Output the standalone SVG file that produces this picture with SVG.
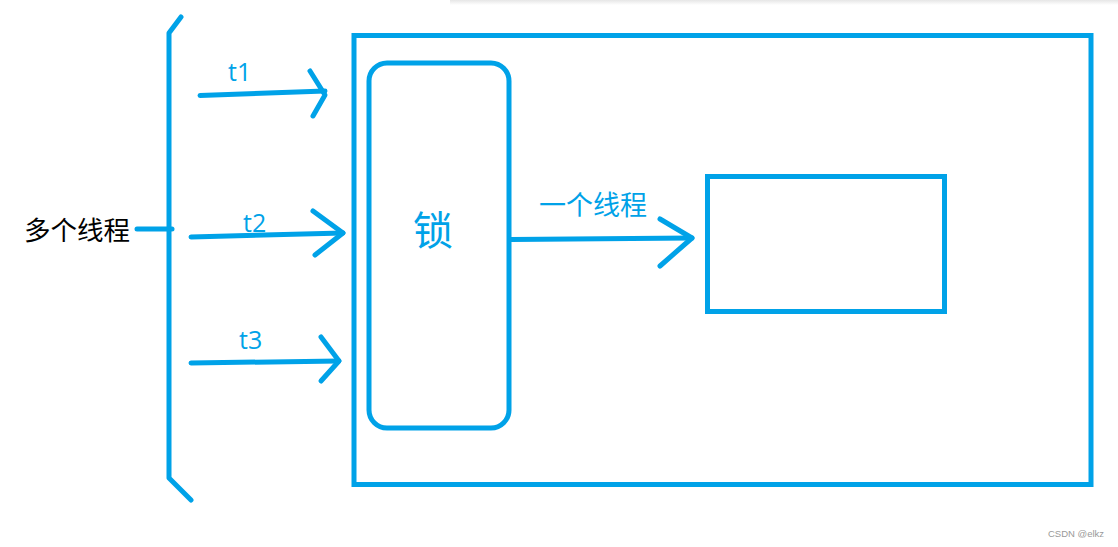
<svg xmlns="http://www.w3.org/2000/svg" width="1118" height="547" viewBox="0 0 1118 547">
<defs>
<style>
.s{fill:none;stroke:#00a2e8;stroke-width:5;stroke-linecap:round;stroke-linejoin:round}
.b{fill:none;stroke:#00a2e8;stroke-width:5}
.cn{font-family:"Noto Sans CJK SC","Microsoft YaHei",sans-serif}
.lt{font-family:"Open Sans","Noto Sans",sans-serif;fill:#00a2e8}
</style>
<linearGradient id="sh" x1="0" y1="0" x2="0" y2="1">
<stop offset="0" stop-color="#e6e6e6"/>
<stop offset="1" stop-color="#ffffff"/>
</linearGradient>
</defs>
<rect width="1118" height="547" fill="#fff"/>
<rect x="450" y="0" width="668" height="5" fill="url(#sh)"/>
<g id="container">
<rect class="b" x="354" y="35.5" width="737" height="449"/>
</g>
<g id="lock">
<rect class="b" x="369" y="63" width="140" height="365" rx="18"/>
<text class="cn" x="433" y="245" font-size="40" fill="#00a2e8" text-anchor="middle">锁</text>
</g>
<g id="target">
<rect class="b" x="707.5" y="176.5" width="237" height="135"/>
</g>
<g id="threads">
<text class="cn" x="24" y="240" font-size="26.5" fill="#000">多个线程</text>
<path class="s" d="M181,17 L169,33 L169,478 L191,500"/>
</g>
<g id="connectors">
<path class="s" d="M137,229 L172,229"/>
<path class="s" d="M200,95.5 L325,91"/>
<path class="s" d="M310,71 L325,95 L313,116"/>
<path class="s" d="M191,237 L343,233"/>
<path class="s" d="M313,211 L343,233 L315,255"/>
<path class="s" d="M191,363 L339,361"/>
<path class="s" d="M321,337 L339,361 L321,381"/>
<path class="s" d="M511,239.5 L692,238"/>
<path class="s" d="M660,219 L692,238 L660,266"/>
</g>
<g id="labels">
<text class="lt" x="228" y="81" font-size="25">t1</text>
<text class="lt" x="243" y="232" font-size="25">t2</text>
<text class="lt" x="239" y="349" font-size="25">t3</text>
<text class="cn" x="539" y="215" font-size="27" fill="#00a2e8">一个线程</text>
</g>
<text x="1048" y="537" font-family="Liberation Sans, Arial, sans-serif" font-size="9.5" fill="#999">CSDN @elkz</text>
</svg>
